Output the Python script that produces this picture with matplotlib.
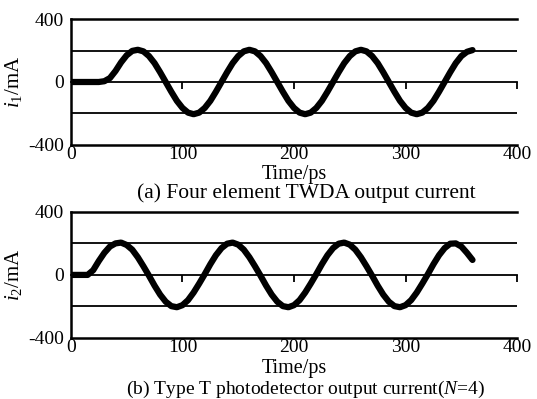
import matplotlib
matplotlib.use('Agg')
import matplotlib.pyplot as plt

plt.rcParams['font.family'] = ['Liberation Serif', 'DejaVu Serif']
plt.rcParams['mathtext.fontset'] = 'custom'
plt.rcParams['mathtext.rm'] = 'Liberation Serif'
plt.rcParams['mathtext.it'] = 'Liberation Serif:italic'
plt.rcParams['axes.unicode_minus'] = False

# time samples, ps
time_ps = [0, 5, 10, 15, 20, 25, 30, 35, 40, 45, 50, 55, 60, 65, 70, 75, 80, 85, 90, 95,
           100, 105, 110, 115, 120, 125, 130, 135, 140, 145, 150, 155, 160, 165, 170, 175,
           180, 185, 190, 195, 200, 205, 210, 215, 220, 225, 230, 235, 240, 245, 250, 255,
           260, 265, 270, 275, 280, 285, 290, 295, 300, 305, 310, 315, 320, 325, 330, 335,
           340, 345, 350, 355, 360]

# (a) four element TWDA output current, mA
i1_mA = [0, 0, 0, 0, 0, 0, 5, 25, 70, 125, 170, 198, 205, 195, 165, 120, 62, 0, -62, -120,
         -165, -195, -205, -195, -165, -120, -62, 0, 62, 120, 165, 195, 205, 195, 165, 120,
         62, 0, -62, -120, -165, -195, -205, -195, -165, -120, -62, 0, 62, 120, 165, 195,
         205, 195, 165, 120, 62, 0, -62, -120, -165, -195, -205, -195, -165, -120, -62, 0,
         62, 120, 165, 192, 203]

# (b) type T photodetector output current, mA
i2_mA = [0, 0, 0, 0, 30, 88, 140, 180, 200, 205, 190, 160, 112, 55, -5, -68, -125, -170, -198, -205,
         -192, -160, -112, -55, 5, 68, 125, 170, 198, 205, 192, 160, 112, 55, -5, -68,
         -125, -170, -198, -205, -192, -160, -112, -55, 5, 68, 125, 170, 198, 205, 192, 160,
         112, 55, -5, -68, -125, -170, -198, -205, -192, -160, -112, -55, 5, 68, 125, 170,
         198, 200, 180, 140, 95]

x_ticks = [0, 100, 200, 300, 400]
y_ticks = [-400, 0, 400]
ref_levels = [200, -200]

panels = [
    (i1_mA, r'$i_1$/mA', '(a) Four element TWDA output current'),
    (i2_mA, r'$i_2$/mA', r'(b) Type T photodetector output current($N$=4)'),
]

W, H = 537, 399
fig = plt.figure(figsize=(W / 100, H / 100), dpi=100)
axes_rects = [[0.132, 0.637, 0.831, 0.315], [0.132, 0.153, 0.831, 0.316]]
time_y = [175, 368]
caption_y = [193, 389]
caption_size = [15.5, 14]

for k, (vals, ylab, caption) in enumerate(panels):
    ax = fig.add_axes(axes_rects[k])
    ax.set_xlim(0, 400)
    ax.set_ylim(-400, 400)

    for lvl in ref_levels:
        ax.axhline(lvl, color='black', lw=1.3, zorder=1)

    ax.plot(time_ps, vals, color='black', lw=4.5, solid_capstyle='round',
            solid_joinstyle='round', zorder=3)

    ax.spines['right'].set_visible(False)
    for s in ['top', 'left', 'bottom']:
        ax.spines[s].set_linewidth(1.8)

    ax.set_xticks(x_ticks)
    ax.set_yticks(y_ticks)
    ax.tick_params(length=0, labelsize=14, pad=1)
    ax.tick_params(axis='y', pad=5)

    # zero line carrying small downward ticks
    zero = ax.secondary_xaxis(0.5)
    zero.set_alignment('bottom')
    zero.set_xticks([100, 200, 300, 400])
    zero.tick_params(direction='out', length=5, width=1.3,
                     labelbottom=False, labeltop=False)
    zero.spines['bottom'].set_linewidth(1.3)

    bb = axes_rects[k]
    fig.text(14 / W, bb[1] + bb[3] / 2, ylab, rotation=90,
             ha='center', va='center', fontsize=15)
    fig.text(294 / W, 1 - time_y[k] / H, 'Time/ps',
             ha='center', va='center', fontsize=14.5)
    fig.text(306 / W, 1 - caption_y[k] / H, caption,
             ha='center', va='center', fontsize=caption_size[k])

fig.savefig('out.png', dpi=100)
